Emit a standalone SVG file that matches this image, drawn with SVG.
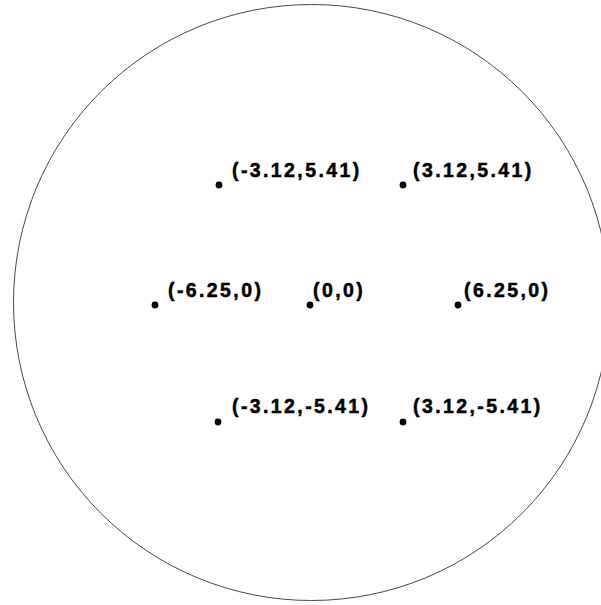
<svg xmlns="http://www.w3.org/2000/svg" width="601" height="605" viewBox="0 0 601 605">
<style>
.pt{fill:#000}
.lb{font-family:"Liberation Sans",Arial,sans-serif;font-weight:bold;font-size:19.5px;letter-spacing:2.4px;fill:#000;stroke:#000;stroke-width:0.5px}
</style>
<rect width="601" height="605" fill="#fff"/>
<circle id="boundary" cx="311.5" cy="302.5" r="298" fill="none" stroke="#333" stroke-width="0.9"/>
<g id="p1"><circle class="pt" cx="219" cy="185" r="3.4"/><text class="lb" x="232" y="177">(-3.12,5.41)</text></g>
<g id="p2"><circle class="pt" cx="403" cy="185" r="3.4"/><text class="lb" x="413" y="177">(3.12,5.41)</text></g>
<g id="p3"><circle class="pt" cx="155" cy="305" r="3.4"/><text class="lb" x="168" y="297">(-6.25,0)</text></g>
<g id="p4"><circle class="pt" cx="310" cy="305" r="3.4"/><text class="lb" x="313" y="297">(0,0)</text></g>
<g id="p5"><circle class="pt" cx="458" cy="305" r="3.4"/><text class="lb" x="464" y="297">(6.25,0)</text></g>
<g id="p6"><circle class="pt" cx="218" cy="422" r="3.4"/><text class="lb" x="232" y="413">(-3.12,-5.41)</text></g>
<g id="p7"><circle class="pt" cx="403" cy="422" r="3.4"/><text class="lb" x="413" y="413">(3.12,-5.41)</text></g>
<g id="connectors"></g>
</svg>
